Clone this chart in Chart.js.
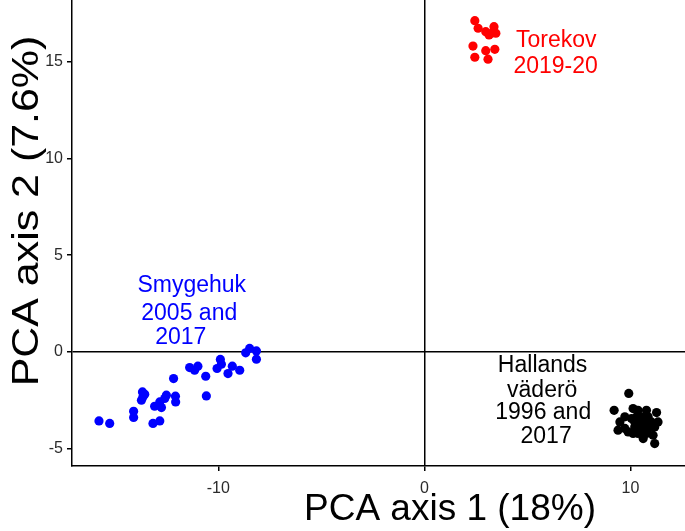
<!DOCTYPE html>
<html>
<head>
<meta charset="utf-8">
<script src="https://cdn.jsdelivr.net/npm/chart.js@4/dist/chart.umd.min.js"></script>
<style>
  body { margin: 0; background: #fff; }
  #wrap { width: 685px; height: 531px; }
</style>
</head>
<body>
<div id="wrap"><canvas id="chart" width="685" height="531"></canvas></div>
<script>
// PCA scores, [axis 1, axis 2]
const torekov = [
    [2.45, 17.12], [2.61, 16.73], [2.98, 16.55], [3.14, 16.38], [3.38, 16.81], [3.47, 16.47],
    [3.26, 16.47], [2.36, 15.81], [2.45, 15.23], [2.98, 15.57], [3.42, 15.64], [3.09, 15.13]
];
const smygehuk = [
    [-15.79, -3.57], [-15.27, -3.70], [-14.11, -3.07], [-14.11, -3.39], [-13.68, -2.07], [-13.66, -2.33],
    [-13.73, -2.50], [-13.57, -2.19], [-13.17, -3.70], [-12.84, -3.57], [-13.09, -2.81], [-12.84, -2.59],
    [-12.76, -2.88], [-12.60, -2.41], [-12.52, -2.24], [-12.17, -1.38], [-12.08, -2.29], [-12.07, -2.59],
    [-11.39, -0.81], [-11.15, -0.95], [-10.99, -0.74], [-10.61, -1.26], [-10.58, -2.28], [-10.06, -0.86],
    [-9.90, -0.39], [-9.85, -0.64], [-9.53, -1.12], [-9.32, -0.74], [-8.96, -0.95], [-8.67, -0.05],
    [-8.48, 0.18], [-8.15, 0.05], [-8.15, -0.38]
];
const hallands = [
    [9.92, -2.15], [9.21, -3.02], [10.13, -2.93], [10.37, -3.02], [10.78, -3.02], [11.27, -3.14],
    [9.73, -3.36], [9.49, -3.62], [10.05, -3.45], [10.54, -3.36], [10.86, -3.36], [10.37, -3.62],
    [10.70, -3.62], [11.02, -3.62], [11.34, -3.62], [9.40, -4.05], [9.73, -3.96], [10.21, -3.88],
    [10.54, -3.88], [10.86, -3.96], [11.18, -3.88], [9.89, -4.14], [10.37, -4.22], [10.78, -4.22],
    [11.10, -4.31], [10.62, -4.48], [11.18, -4.74], [10.13, -4.22], [10.30, -3.36], [10.70, -3.79],
    [10.46, -4.05], [10.21, -3.62]
];
const xTicks = [-10, 0, 10];
const yTicks = [-5, 0, 5, 10, 15];
const xTitle = 'PCA axis 1 (18%)';
const yTitle = 'PCA axis 2 (7.6%)';

// group labels, each line anchored in data units
const groupLabels = [
    { color: '#ff0000', lines: [['Torekov', 6.4, 16.11], ['2019-20', 6.37, 14.72]] },
    { color: '#0000ff', lines: [['Smygehuk', -11.29, 3.44], ['2005 and', -11.41, 1.99], ['2017', -11.82, 0.75]] },
    { color: '#000000', lines: [['Hallands', 5.74, -0.70], ['väderö', 5.72, -1.99], ['1996 and', 5.77, -3.13], ['2017', 5.91, -4.37]] }
];

const FONT = '"Liberation Sans", Arial, Helvetica, sans-serif';

function toPoints(arr) {
    return arr.map(p => ({ x: p[0], y: p[1] }));
}

const labelPlugin = {
    id: 'groupLabels',
    afterDatasetsDraw(chart) {
        const ctx = chart.ctx;
        const xs = chart.scales.x, ys = chart.scales.y;
        ctx.save();
        ctx.font = '23px ' + FONT;
        ctx.textAlign = 'center';
        ctx.textBaseline = 'middle';
        groupLabels.forEach(g => {
            ctx.fillStyle = g.color;
            g.lines.forEach(l => {
                ctx.fillText(l[0], xs.getPixelForValue(l[1]), ys.getPixelForValue(l[2]));
            });
        });
        ctx.restore();
    }
};

const titlePlugin = {
    id: 'axisTitles',
    afterDraw(chart) {
        const ctx = chart.ctx;
        ctx.save();
        ctx.fillStyle = '#000';
        ctx.font = '37px ' + FONT;
        ctx.textAlign = 'center';
        ctx.textBaseline = 'alphabetic';
        ctx.fillText(xTitle, 450, 520);
        // the y title is drawn a bit longer than the x title, as in the figure
        ctx.translate(38, 211);
        ctx.rotate(-Math.PI / 2);
        ctx.scale(1.16, 1);
        ctx.fillText(yTitle, 0, 0);
        ctx.restore();
    }
};

const zeroLine = c => (c.tick && c.tick.value === 0) ? '#000' : 'rgba(0,0,0,0)';

new Chart(document.getElementById('chart').getContext('2d'), {
    type: 'scatter',
    data: {
        datasets: [
            { label: 'Torekov', data: toPoints(torekov), backgroundColor: '#ff0000' },
            { label: 'Smygehuk', data: toPoints(smygehuk), backgroundColor: '#0000ff' },
            { label: 'Hallands väderö', data: toPoints(hallands), backgroundColor: '#000000' }
        ]
    },
    options: {
        responsive: false,
        animation: false,
        layout: { padding: 0, autoPadding: false },
        elements: { point: { radius: 4.6, borderWidth: 0, hoverRadius: 4.6 } },
        plugins: { legend: { display: false }, tooltip: { enabled: false } },
        scales: {
            x: {
                type: 'linear',
                min: -17.1,
                max: 12.65,
                afterBuildTicks: s => { s.ticks = xTicks.map(v => ({ value: v })); },
                afterFit: s => { s.height = 65; s.paddingLeft = 0; s.paddingRight = 0; },
                grid: { color: zeroLine, lineWidth: 1.5, tickColor: '#000', tickLength: 5 },
                border: { color: '#000', width: 1.5 },
                ticks: { color: '#2b2b2b', padding: 8, font: { family: FONT, size: 16 } }
            },
            y: {
                type: 'linear',
                min: -5.9,
                max: 18.19,
                afterBuildTicks: s => { s.ticks = yTicks.map(v => ({ value: v })); },
                afterFit: s => { s.width = 72; s.paddingTop = 0; s.paddingBottom = 0; },
                grid: { color: zeroLine, lineWidth: 1.5, tickColor: '#000', tickLength: 5 },
                border: { color: '#000', width: 1.5 },
                ticks: { color: '#2b2b2b', padding: 4, font: { family: FONT, size: 16 } }
            }
        }
    },
    plugins: [labelPlugin, titlePlugin]
});
</script>
</body>
</html>
